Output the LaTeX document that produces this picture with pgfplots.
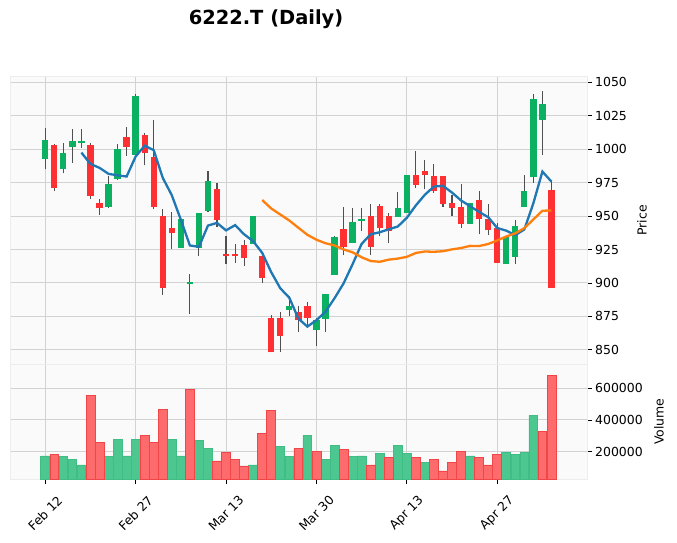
\documentclass[border=0pt]{standalone}
\usepackage{fontspec}
\setmainfont{DejaVu Sans}
\usepackage{pgfplots}
\usepackage{pgfplotstable}
\pgfplotsset{compat=1.18}
\definecolor{upc}{HTML}{0BB060}
\definecolor{dnc}{HTML}{FE3032}
\definecolor{wickc}{HTML}{505050}
\definecolor{vup}{HTML}{4DC790}
\definecolor{vupe}{HTML}{3FBD84}
\definecolor{vdn}{HTML}{FD6B6C}
\definecolor{vdne}{HTML}{F24548}
\definecolor{gridc}{HTML}{D2D2D2}
\definecolor{bgc}{HTML}{FAFAFA}
\definecolor{ma1}{HTML}{1F77B4}
\definecolor{ma2}{HTML}{FF7F0E}
% daily prices: index, open, high, low, close
\pgfplotstableread{
i o h l c
0 993 1016 985 1007
1 1003 1004 969 971
2 985 1005 982 997
3 1002 1015 990 1006
4 1005 1015 1001 1006.5
5 1003 1005 963 965
6 960 963 951 956
7 957 980 956 974
8 978 1004 977 1000
9 1009 1017 995 1002
10 996 1041 996 1040
11 1011 1012 988 997
12 994 1022 955 957
13 950 955 891 896
14 941 953 925 937
15 926 950 926 948
16 899.5 907 877 900.7
17 926 952.5 920 952
18 954 984 953 976
19 970 975 942 947
20 922 935 914 920
21 922 929 915 920
22 928 932 913 918.5
23 929 950 929 950
24 920 920 900 903.5
25 874 876 848 848
26 874 878 848 860
27 879.5 890 875 883
28 878 883 863 872
29 883 885.5 867 873.5
30 864.5 874 853 872
31 873 891.5 863 891.5
32 906 935 906 934
33 940 956.5 921 927
34 930 956 930 945.5
35 946.5 956 939 948
36 950 959 921 927
37 957.5 959 935 941
38 950 952.5 929.5 938.5
39 949.5 968 949.5 956
40 952.5 981 952.5 981
41 981 999 971 973.5
42 984 992 970 981
43 980 989 967.5 969
44 980 980 957 959
45 959.5 966 950 956
46 957 974 941 944
47 944 959.5 944 959.5
48 962 969 936.5 947.5
49 948 959 936 939.5
50 941 945 915 915
51 914.5 934 914.5 934
52 919.5 947 914 942.5
53 957 980.5 957 969
54 979.5 1041.5 975 1037.5
55 1022 1043.5 996 1033.5
56 969.5 976 896 896.5
}\ohlc
% rising candles: index, open, close
\pgfplotstableread{
i o c
0 993 1007
2 985 997
3 1002 1006
4 1005 1006.5
7 957 974
8 978 1000
10 996 1040
15 926 948
16 899.5 900.7
17 926 952
18 954 976
23 929 950
27 879.5 883
30 864.5 872
31 873 891.5
32 906 934
34 930 945.5
35 946.5 948
39 949.5 956
40 952.5 981
47 944 959.5
51 914.5 934
52 919.5 942.5
53 957 969
54 979.5 1037.5
55 1022 1033.5
}\upbody
% falling candles: index, open, close
\pgfplotstableread{
i o c
1 1003 971
5 1003 965
6 960 956
9 1009 1002
11 1011 997
12 994 957
13 950 896
14 941 937
19 970 947
20 922 920
21 922 920
22 928 918.5
24 920 903.5
25 874 848
26 874 860
28 878 872
29 883 873.5
33 940 927
36 950 927
37 957.5 941
38 950 938.5
41 981 973.5
42 984 981
43 980 969
44 980 959
45 959.5 956
46 957 944
48 962 947.5
49 948 939.5
50 941 915
56 969.5 896.5
}\dnbody
\begin{document}
\begin{tikzpicture}
\useasboundingbox (0bp,0bp) rectangle (677bp,543bp);
\pgfplotsset{
  base/.style={
    scale only axis, width=576.7bp, xmin=-3.9, xmax=59.9,
    axis background/.style={fill=bgc},
    axis line style={draw=black!7},
    grid=major, major grid style={gridc, line width=1.0bp},
    yticklabel pos=right, ytick pos=right, xtick pos=bottom,
    tick align=outside, major tick length=5bp,
    tick style={black, line width=0.8bp},
    xtick={0,10,20,30,40,50},
    tick label style={font=\fontsize{12.5}{15}\selectfont},
    /pgf/number format/assume math mode=true,
    /pgf/number format/fixed,
    /pgf/number format/1000 sep={},
    scaled y ticks=false,
  },
  span/.style n args={2}{draw=none, mark=none,
    error bars/.cd, y dir=plus, y explicit, error mark=none,
    error bar style={draw=#1, line width=#2}},
}
% ---------------- price panel ----------------
\begin{axis}[base, at={(10bp,178.7bp)}, anchor=south west, height=287.6bp,
  ymin=839.1, ymax=1054.3, ytick={850,875,...,1050},
  xticklabels={}, xtick style={draw=none},
  ylabel={Price},
  every axis y label/.style={at={(axis description cs:1.0959,0.5)}, rotate=90, anchor=center, font=\fontsize{12.5}{15}\selectfont}]
% wicks: low to high
\addplot[span={wickc}{1.1bp}] table[x=i, y=l, y error plus expr=\thisrow{h}-\thisrow{l}] {\ohlc};
% rising bodies: open to close
\addplot[span={upc}{6.3bp}] table[x=i, y=o, y error plus expr=\thisrow{c}-\thisrow{o}] {\upbody};
% falling bodies: close to open
\addplot[span={dnc}{6.3bp}] table[x=i, y=c, y error plus expr=\thisrow{o}-\thisrow{c}] {\dnbody};
% 5-day moving average
\addplot[ma1, line width=2.3bp] coordinates {
(4,997.5)(5,989.0)(6,986.1)(7,981.6)(8,980.5)(9,979.6)(10,994.6)(11,1002.7)(12,999.3)(13,978.6)
(14,965.6)(15,947.3)(16,928.0)(17,927.0)(18,942.9)(19,944.9)(20,939.3)(21,943.2)(22,936.4)(23,931.2)
(24,922.5)(25,908.0)(26,896.0)(27,888.9)(28,873.3)(29,867.3)(30,872.1)(31,878.4)(32,888.5)(33,899.6)
(34,914.0)(35,929.2)(36,936.4)(37,937.9)(38,940.1)(39,942.2)(40,948.7)(41,958.0)(42,966.0)(43,972.1)
(44,972.6)(45,967.6)(46,961.7)(47,957.4)(48,953.1)(49,949.2)(50,941.1)(51,939.1)(52,935.7)(53,940.0)
(54,959.6)(55,983.3)(56,975.8)
};
% 25-day moving average
\addplot[ma2, line width=2.3bp] coordinates {
(24,962.0)(25,955.7)(26,951.2)(27,946.7)(28,941.3)(29,936.0)(30,932.3)(31,929.7)(32,928.0)(33,925.1)
(34,922.9)(35,919.2)(36,916.4)(37,915.8)(38,917.4)(39,918.2)(40,919.5)(41,922.4)(42,923.5)(43,923.3)
(44,923.7)(45,925.1)(46,926.1)(47,927.7)(48,927.6)(49,929.1)(50,931.8)(51,934.7)(52,937.1)(53,941.0)
(54,947.5)(55,954.0)(56,954.2)
};
\end{axis}
% ---------------- volume panel ----------------
\begin{axis}[base, at={(10bp,63.7bp)}, anchor=south west, height=115bp,
  ymin=23600, ymax=752900, ytick={200000,400000,600000},
  xticklabels={Feb 12,Feb 27,Mar 13,Mar 30,Apr 13,Apr 27},
  xticklabel style={yshift=-29bp, rotate=45, anchor=center},
  ylabel={Volume},
  every axis y label/.style={at={(axis description cs:1.1254,0.5)}, rotate=90, anchor=center, font=\fontsize{12.5}{15}\selectfont}]
\addplot[ybar, bar width=0.98, bar shift=0pt, fill=vup, draw=vupe, line width=0.7bp] coordinates {
(0,172000)(2,166000)(3,149000)(4,115000)(7,166000)(8,274000)(9,172000)(10,274000)(14,274000)
(15,172000)(17,268000)(18,217000)(23,115000)(26,230000)(27,166000)(29,300000)(31,147000)(32,236000)
(34,166000)(35,172000)(37,185000)(39,236000)(40,185000)(42,128000)(47,172000)(51,191500)(52,179000)
(53,191500)(54,428000)
};
\addplot[ybar, bar width=0.98, bar shift=0pt, fill=vdn, draw=vdne, line width=0.7bp] coordinates {
(1,179000)(5,555000)(6,255000)(11,300000)(12,255000)(13,466000)(16,594000)(19,140000)(20,191500)
(21,147000)(22,108500)(24,313000)(25,460000)(28,217000)(30,198000)(33,211000)(36,115000)(38,160000)
(41,160000)(43,147000)(44,77000)(45,128000)(46,198000)(48,160000)(49,115000)(50,179000)(55,326000)
(56,683000)
};
\end{axis}
\node[font=\fontsize{19.5}{23}\selectfont\bfseries] at (266bp,524bp) {6222.T (Daily)};
\end{tikzpicture}
\end{document}
